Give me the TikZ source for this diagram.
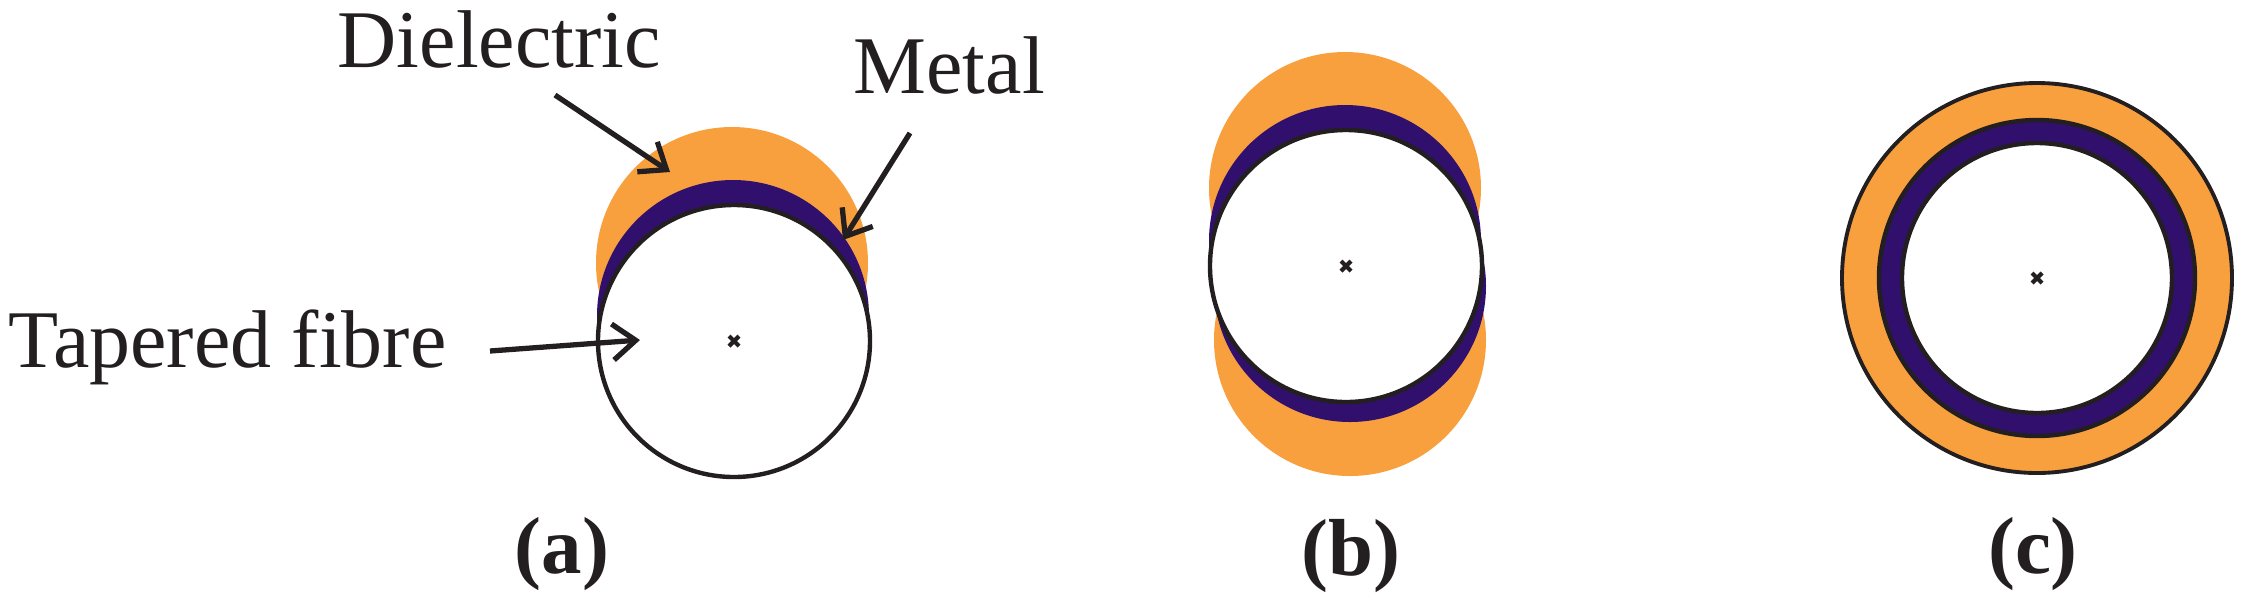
\documentclass[tikz,border=0pt]{standalone}
\usepackage{fontspec}
\setmainfont{Liberation Serif}
\usetikzlibrary{arrows.meta}
\definecolor{diel}{HTML}{F9A03E}
\definecolor{metalc}{HTML}{30106C}
\definecolor{ink}{HTML}{231F20}
\begin{document}
\begin{tikzpicture}[x=0.01cm,y=-0.01cm,
  lbl/.style={font=\fontsize{23.3}{28}\selectfont, text=ink, inner sep=0pt, anchor=base west},
  panelcap/.style={font=\fontsize{23}{28}\selectfont\bfseries, text=ink, inner sep=0pt, anchor=base},
  pointer/.style={draw=ink, line width=1.5pt, -{Straight Barb[length=0.23cm,width=0.36cm,line width=1.5pt]}},
  dielfill/.style={fill=diel},
  metalfill/.style={fill=metalc},
  fibre/.style={fill=white, draw=ink, line width=1.25pt},
  ringline/.style={draw=ink, line width=1.1pt},
  centremark/.style={draw=ink, line width=1.2pt}]
\useasboundingbox (0,0) rectangle (2244,602);

% ---------------- panel (a)
\coordinate (ca) at (734,341);
\fill[dielfill] (732,263) circle[radius=136];
\fill[metalfill] (733,316) circle[radius=136];
\draw[fibre] (ca) circle[radius=136];
\draw[centremark] ([shift={(-5,-5)}]ca) -- ([shift={(5,5)}]ca);
\draw[centremark] ([shift={(-5,5)}]ca) -- ([shift={(5,-5)}]ca);

\node[lbl] (ldiel) at (337,67) {Dielectric};
\node[lbl] (lmetal) at (853,93) {Metal};
\node[lbl] (lfibre) at (8,367) {Tapered fibre};

\coordinate (dstart) at (555,95);
\coordinate (dtip) at (670,172);
\coordinate (mstart) at (910,133);
\coordinate (mtip) at (843,240);
\coordinate (fstart) at (490,351);
\coordinate (ftip) at (640,340);
\draw[pointer] (dstart) -- (dtip);
\draw[pointer] (mstart) -- (mtip);
\draw[pointer] (fstart) -- (ftip);

\node[panelcap] (capa) at (562,573) {(a)};

% ---------------- panel (b)
\coordinate (cb) at (1346,266);
\fill[dielfill] (1345,188) circle[radius=136];
\fill[dielfill] (1350,340) circle[radius=136];
\fill[metalfill] (1345,241) circle[radius=136];
\fill[metalfill] (1350,286) circle[radius=136];
\draw[fibre] (cb) circle[radius=136];
\draw[centremark] ([shift={(-5,-5)}]cb) -- ([shift={(5,5)}]cb);
\draw[centremark] ([shift={(-5,5)}]cb) -- ([shift={(5,-5)}]cb);

\node[panelcap] (capb) at (1351,575) {(b)};

% ---------------- panel (c)
\coordinate (cc) at (2037,278);
\draw[ringline, fill=diel] (cc) circle[radius=195];
\draw[fibre, fill=metalc] (cc) circle[radius=158];
\draw[fibre] (cc) circle[radius=135];
\draw[centremark] ([shift={(-5,-5)}]cc) -- ([shift={(5,5)}]cc);
\draw[centremark] ([shift={(-5,5)}]cc) -- ([shift={(5,-5)}]cc);

\node[panelcap] (capc) at (2033,573) {(c)};
\end{tikzpicture}
\end{document}
